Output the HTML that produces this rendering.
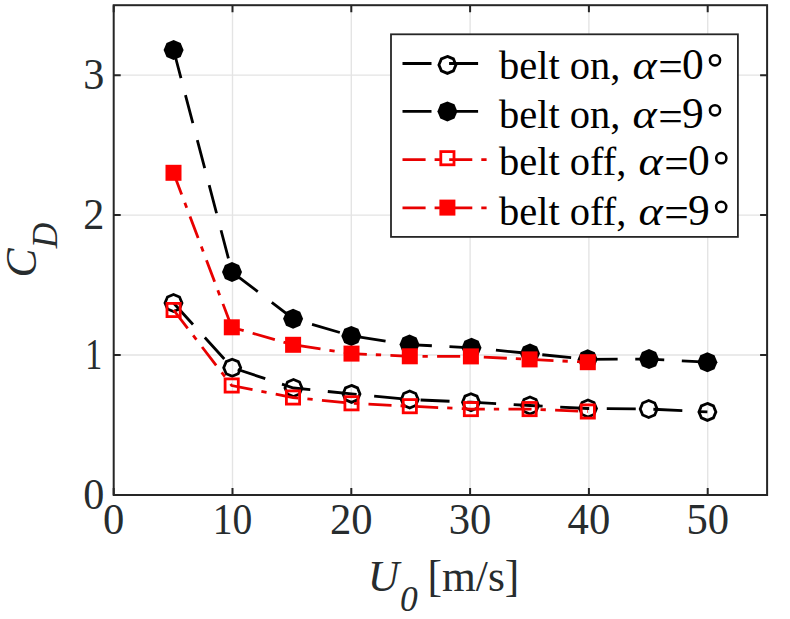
<!DOCTYPE html><html><head><meta charset="utf-8"><style>html,body{margin:0;padding:0;background:#fff;}svg{display:block;}text{font-family:"Liberation Serif",serif;}</style></head><body><svg width="790" height="619" viewBox="0 0 790 619"><rect x="0" y="0" width="790" height="619" fill="#fff"/><path d="M232.50 5.20V495.00 M351.30 5.20V495.00 M470.10 5.20V495.00 M588.90 5.20V495.00 M707.70 5.20V495.00 M113.70 355.06H767.10 M113.70 215.11H767.10 M113.70 75.17H767.10" stroke="#e4e4e4" stroke-width="1.4" fill="none"/><polyline points="173.5,303.0 232.2,367.7 293.5,388.0 351.5,393.9 409.7,399.5 471.0,402.2 530.0,405.5 588.0,408.5 648.7,409.0 707.4,411.9" fill="none" stroke="#000" stroke-width="2.8" stroke-dasharray="29 17.6"/><polygon points="173.50,294.50 179.51,296.99 182.00,303.00 179.51,309.01 173.50,311.50 167.49,309.01 165.00,303.00 167.49,296.99" fill="none" stroke="#000" stroke-width="2.8" stroke-linejoin="miter"/><polygon points="232.20,359.20 238.21,361.69 240.70,367.70 238.21,373.71 232.20,376.20 226.19,373.71 223.70,367.70 226.19,361.69" fill="none" stroke="#000" stroke-width="2.8" stroke-linejoin="miter"/><polygon points="293.50,379.50 299.51,381.99 302.00,388.00 299.51,394.01 293.50,396.50 287.49,394.01 285.00,388.00 287.49,381.99" fill="none" stroke="#000" stroke-width="2.8" stroke-linejoin="miter"/><polygon points="351.50,385.40 357.51,387.89 360.00,393.90 357.51,399.91 351.50,402.40 345.49,399.91 343.00,393.90 345.49,387.89" fill="none" stroke="#000" stroke-width="2.8" stroke-linejoin="miter"/><polygon points="409.70,391.00 415.71,393.49 418.20,399.50 415.71,405.51 409.70,408.00 403.69,405.51 401.20,399.50 403.69,393.49" fill="none" stroke="#000" stroke-width="2.8" stroke-linejoin="miter"/><polygon points="471.00,393.70 477.01,396.19 479.50,402.20 477.01,408.21 471.00,410.70 464.99,408.21 462.50,402.20 464.99,396.19" fill="none" stroke="#000" stroke-width="2.8" stroke-linejoin="miter"/><polygon points="530.00,397.00 536.01,399.49 538.50,405.50 536.01,411.51 530.00,414.00 523.99,411.51 521.50,405.50 523.99,399.49" fill="none" stroke="#000" stroke-width="2.8" stroke-linejoin="miter"/><polygon points="588.00,400.00 594.01,402.49 596.50,408.50 594.01,414.51 588.00,417.00 581.99,414.51 579.50,408.50 581.99,402.49" fill="none" stroke="#000" stroke-width="2.8" stroke-linejoin="miter"/><polygon points="648.70,400.50 654.71,402.99 657.20,409.00 654.71,415.01 648.70,417.50 642.69,415.01 640.20,409.00 642.69,402.99" fill="none" stroke="#000" stroke-width="2.8" stroke-linejoin="miter"/><polygon points="707.40,403.40 713.41,405.89 715.90,411.90 713.41,417.91 707.40,420.40 701.39,417.91 698.90,411.90 701.39,405.89" fill="none" stroke="#000" stroke-width="2.8" stroke-linejoin="miter"/><polyline points="173.6,50.0 232.0,272.0 293.1,318.7 351.3,335.9 409.5,344.6 471.5,347.8 530.0,353.5 587.7,359.3 649.0,359.1 707.4,362.2" fill="none" stroke="#000" stroke-width="2.8" stroke-dasharray="29 17.6"/><polygon points="173.60,40.00 180.67,42.93 183.60,50.00 180.67,57.07 173.60,60.00 166.53,57.07 163.60,50.00 166.53,42.93" fill="#000"/><polygon points="232.00,262.00 239.07,264.93 242.00,272.00 239.07,279.07 232.00,282.00 224.93,279.07 222.00,272.00 224.93,264.93" fill="#000"/><polygon points="293.10,308.70 300.17,311.63 303.10,318.70 300.17,325.77 293.10,328.70 286.03,325.77 283.10,318.70 286.03,311.63" fill="#000"/><polygon points="351.30,325.90 358.37,328.83 361.30,335.90 358.37,342.97 351.30,345.90 344.23,342.97 341.30,335.90 344.23,328.83" fill="#000"/><polygon points="409.50,334.60 416.57,337.53 419.50,344.60 416.57,351.67 409.50,354.60 402.43,351.67 399.50,344.60 402.43,337.53" fill="#000"/><polygon points="471.50,337.80 478.57,340.73 481.50,347.80 478.57,354.87 471.50,357.80 464.43,354.87 461.50,347.80 464.43,340.73" fill="#000"/><polygon points="530.00,343.50 537.07,346.43 540.00,353.50 537.07,360.57 530.00,363.50 522.93,360.57 520.00,353.50 522.93,346.43" fill="#000"/><polygon points="587.70,349.30 594.77,352.23 597.70,359.30 594.77,366.37 587.70,369.30 580.63,366.37 577.70,359.30 580.63,352.23" fill="#000"/><polygon points="649.00,349.10 656.07,352.03 659.00,359.10 656.07,366.17 649.00,369.10 641.93,366.17 639.00,359.10 641.93,352.03" fill="#000"/><polygon points="707.40,352.20 714.47,355.13 717.40,362.20 714.47,369.27 707.40,372.20 700.33,369.27 697.40,362.20 700.33,355.13" fill="#000"/><polyline points="173.6,310.0 231.7,385.5 293.0,397.5 351.5,403.3 409.8,406.2 470.9,409.1 529.6,409.1 587.8,411.5" fill="none" stroke="#e80000" stroke-width="2.8" stroke-dasharray="23.1 9 5.3 9.3"/><rect x="167.00" y="303.40" width="13.20" height="13.20" fill="none" stroke="#ff0000" stroke-width="2.8"/><rect x="225.10" y="378.90" width="13.20" height="13.20" fill="none" stroke="#ff0000" stroke-width="2.8"/><rect x="286.40" y="390.90" width="13.20" height="13.20" fill="none" stroke="#ff0000" stroke-width="2.8"/><rect x="344.90" y="396.70" width="13.20" height="13.20" fill="none" stroke="#ff0000" stroke-width="2.8"/><rect x="403.20" y="399.60" width="13.20" height="13.20" fill="none" stroke="#ff0000" stroke-width="2.8"/><rect x="464.30" y="402.50" width="13.20" height="13.20" fill="none" stroke="#ff0000" stroke-width="2.8"/><rect x="523.00" y="402.50" width="13.20" height="13.20" fill="none" stroke="#ff0000" stroke-width="2.8"/><rect x="581.20" y="404.90" width="13.20" height="13.20" fill="none" stroke="#ff0000" stroke-width="2.8"/><polyline points="173.5,172.8 231.8,327.3 293.1,344.8 351.5,353.6 409.8,356.3 470.9,356.4 529.6,359.4 587.8,362.2" fill="none" stroke="#e80000" stroke-width="2.8" stroke-dasharray="23.1 9 5.3 9.3"/><rect x="165.50" y="164.80" width="16.00" height="16.00" fill="#ff0000"/><rect x="223.80" y="319.30" width="16.00" height="16.00" fill="#ff0000"/><rect x="285.10" y="336.80" width="16.00" height="16.00" fill="#ff0000"/><rect x="343.50" y="345.60" width="16.00" height="16.00" fill="#ff0000"/><rect x="401.80" y="348.30" width="16.00" height="16.00" fill="#ff0000"/><rect x="462.90" y="348.40" width="16.00" height="16.00" fill="#ff0000"/><rect x="521.60" y="351.40" width="16.00" height="16.00" fill="#ff0000"/><rect x="579.80" y="354.20" width="16.00" height="16.00" fill="#ff0000"/><path d="M113.70 495.00V488.00M113.70 5.20V12.20 M232.50 495.00V488.00M232.50 5.20V12.20 M351.30 495.00V488.00M351.30 5.20V12.20 M470.10 495.00V488.00M470.10 5.20V12.20 M588.90 495.00V488.00M588.90 5.20V12.20 M707.70 495.00V488.00M707.70 5.20V12.20 M113.70 495.00H120.70M767.10 495.00H760.10 M113.70 355.06H120.70M767.10 355.06H760.10 M113.70 215.11H120.70M767.10 215.11H760.10 M113.70 75.17H120.70M767.10 75.17H760.10" stroke="#262626" stroke-width="2" fill="none"/><rect x="113.70" y="5.20" width="653.40" height="489.80" fill="none" stroke="#262626" stroke-width="2"/><text transform="translate(93.7 508.8) scale(0.97 1)" font-size="43.5" fill="#272c2e" text-anchor="middle">0</text><text transform="translate(93.7 368.9) scale(0.78 1)" font-size="43.5" fill="#272c2e" text-anchor="middle">1</text><text transform="translate(93.7 228.9) scale(0.97 1)" font-size="43.5" fill="#272c2e" text-anchor="middle">2</text><text transform="translate(93.7 89.0) scale(0.97 1)" font-size="43.5" fill="#272c2e" text-anchor="middle">3</text><text transform="translate(113.7 533.5) scale(0.98 1)" font-size="43.5" fill="#272c2e" text-anchor="middle">0</text><text transform="translate(232.5 533.5) scale(0.91 1)" font-size="43.5" fill="#272c2e" text-anchor="middle">10</text><text transform="translate(351.3 533.5) scale(0.98 1)" font-size="43.5" fill="#272c2e" text-anchor="middle">20</text><text transform="translate(470.1 533.5) scale(0.98 1)" font-size="43.5" fill="#272c2e" text-anchor="middle">30</text><text transform="translate(588.9 533.5) scale(0.98 1)" font-size="43.5" fill="#272c2e" text-anchor="middle">40</text><text transform="translate(707.7 533.5) scale(0.98 1)" font-size="43.5" fill="#272c2e" text-anchor="middle">50</text><text x="367.8" y="591.2" font-size="43.5" fill="#272c2e" font-style="italic">U</text><text x="400" y="610.6" font-size="35.5" fill="#272c2e" font-style="italic">0</text><text x="427.5" y="591.3" font-size="43.5" fill="#272c2e">[m/s]</text><g transform="translate(36.4,277.4) rotate(-90)"><text x="0" y="0" font-size="43.5" fill="#272c2e" font-style="italic">C</text><text x="29.2" y="20.2" font-size="35.5" fill="#272c2e" font-style="italic">D</text></g><rect x="391" y="34.3" width="346.9" height="202.6" fill="#fff" stroke="#262626" stroke-width="1.8"/><path d="M402.5 63.5H488" stroke="#000" stroke-width="2.8" stroke-dasharray="29 17.6" fill="none"/><polygon points="447.40,56.40 453.41,58.89 455.90,64.90 453.41,70.91 447.40,73.40 441.39,70.91 438.90,64.90 441.39,58.89" fill="none" stroke="#000" stroke-width="2.8" stroke-linejoin="miter"/><text x="499" y="78.8" font-size="40.5" fill="#000">belt on, </text><text transform="translate(632.4 78.8) scale(1.14 1)" font-size="40.5" fill="#000" font-style="italic">α</text><text x="658.2" y="81.3" font-size="43.5" fill="#000">=</text><text x="682.1" y="78.8" font-size="43.5" fill="#000">0</text><circle cx="715" cy="60.3" r="5.1" fill="none" stroke="#000" stroke-width="2.5"/><path d="M402.5 111.4H488" stroke="#000" stroke-width="2.8" stroke-dasharray="29 17.6" fill="none"/><polygon points="447.40,101.40 454.47,104.33 457.40,111.40 454.47,118.47 447.40,121.40 440.33,118.47 437.40,111.40 440.33,104.33" fill="#000"/><text x="499" y="128.4" font-size="40.5" fill="#000">belt on, </text><text transform="translate(632.4 128.4) scale(1.14 1)" font-size="40.5" fill="#000" font-style="italic">α</text><text x="658.2" y="130.9" font-size="43.5" fill="#000">=</text><text x="682.1" y="128.4" font-size="43.5" fill="#000">9</text><circle cx="715" cy="110.3" r="5.1" fill="none" stroke="#000" stroke-width="2.5"/><path d="M402.5 159.7H488" stroke="#e80000" stroke-width="2.8" stroke-dasharray="23.1 9 5.3 9.3" fill="none"/><rect x="440.80" y="151.60" width="13.20" height="13.20" fill="none" stroke="#ff0000" stroke-width="2.8"/><text x="499" y="175.0" font-size="40.5" fill="#000">belt off, </text><text transform="translate(638.4 175.0) scale(1.14 1)" font-size="40.5" fill="#000" font-style="italic">α</text><text x="664.2" y="177.5" font-size="43.5" fill="#000">=</text><text x="688.1" y="175.0" font-size="43.5" fill="#000">0</text><circle cx="721.3" cy="158.2" r="5.1" fill="none" stroke="#000" stroke-width="2.5"/><path d="M402.5 207.8H488" stroke="#e80000" stroke-width="2.8" stroke-dasharray="23.1 9 5.3 9.3" fill="none"/><rect x="439.40" y="199.60" width="16.00" height="16.00" fill="#ff0000"/><text x="499" y="224.5" font-size="40.5" fill="#000">belt off, </text><text transform="translate(638.4 224.5) scale(1.14 1)" font-size="40.5" fill="#000" font-style="italic">α</text><text x="664.2" y="227.0" font-size="43.5" fill="#000">=</text><text x="688.1" y="224.5" font-size="43.5" fill="#000">9</text><circle cx="721.2" cy="206.9" r="5.1" fill="none" stroke="#000" stroke-width="2.5"/></svg></body></html>
